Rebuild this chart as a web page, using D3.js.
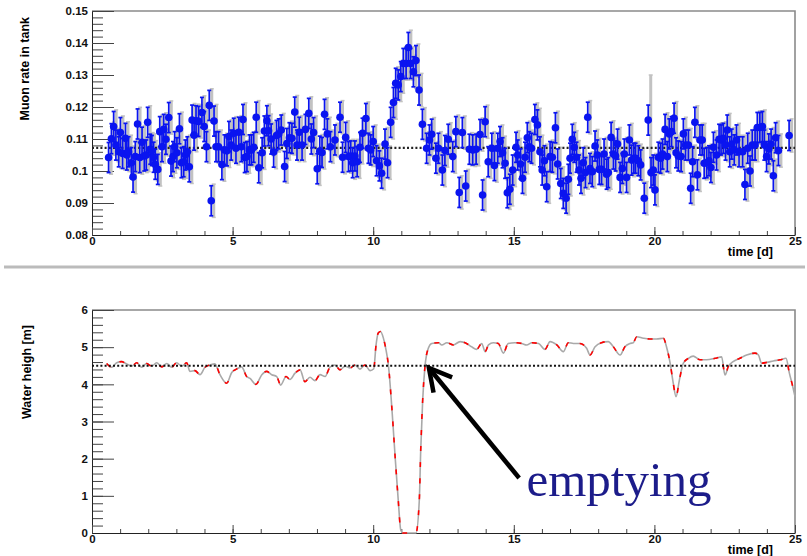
<!DOCTYPE html>
<html>
<head>
<meta charset="utf-8">
<script src="https://cdn.jsdelivr.net/npm/d3@7"></script>
<style>
body { margin: 0; background: #fff; }
svg { display: block; font-family: "Liberation Sans", Arial, sans-serif; }
.axis text { font-size: 11.5px; font-weight: bold; fill: #111; }
.axis line { stroke: #444; }
.axis path { stroke: #222; }
</style>
</head>
<body>
<div class="chart"></div>
<script>
// muon rate in tank: [time (d), rate]
const muonRate = [
  [0.59,.1042],[0.69,.1101],[0.77,.1139],[0.85,.1081],[0.95,.1060],[1.01,.1120],[1.09,.1055],[1.19,.1102],
  [1.24,.1050],[1.30,.1060],[1.40,.1026],[1.46,.0981],[1.54,.1045],[1.62,.1147],[1.70,.1042],[1.78,.1090],
  [1.86,.1047],[1.93,.1050],[1.98,.1152],[2.07,.1068],[2.13,.1064],[2.19,.1043],[2.25,.1021],[2.34,.1005],
  [2.41,.1123],[2.49,.1076],[2.55,.1130],[2.63,.1099],[2.73,.1167],[2.81,.1031],[2.88,.1045],[2.94,.1076],
  [3.02,.1057],[3.11,.1132],[3.18,.1026],[3.26,.1029],[3.32,.1050],[3.39,.1060],[3.46,.1013],[3.56,.1159],
  [3.63,.1112],[3.70,.1157],[3.79,.1155],[3.91,.1183],[3.99,.1139],[4.07,.1076],[4.17,.1205],[4.24,.0907],
  [4.34,.1156],[4.41,.1076],[4.50,.1076],[4.62,.1020],[4.71,.1066],[4.80,.1063],[4.87,.1108],[4.95,.1081],
  [5.04,.1118],[5.12,.1071],[5.22,.1121],[5.31,.1076],[5.37,.1161],[5.43,.1042],[5.51,.1045],[5.60,.1066],
  [5.67,.1066],[5.75,.1074],[5.84,.1168],[5.93,.1010],[6.05,.1057],[6.13,.1125],[6.22,.1157],[6.28,.1126],
  [6.37,.1100],[6.46,.1059],[6.56,.1111],[6.64,.1116],[6.73,.1128],[6.85,.1014],[6.93,.1086],[7.02,.1104],
  [7.11,.1102],[7.21,.1184],[7.29,.1081],[7.37,.1121],[7.47,.1081],[7.59,.1130],[7.71,.1180],[7.80,.1100],
  [7.88,.1120],[8.01,.1007],[8.10,.1062],[8.18,.1058],[8.27,.1177],[8.37,.1116],[8.48,.1076],
  [8.64,.1097],[8.82,.1168],[8.91,.1043],[9.02,.1105],[9.12,.1045],[9.20,.1047],[9.27,.1026],[9.35,.1047],
  [9.43,.1029],[9.53,.1074],[9.62,.1118],[9.74,.1164],[9.83,.1071],[9.91,.1066],[10.00,.1092],[10.12,.1032],
  [10.22,.1016],[10.30,.0993],[10.42,.1084],[10.51,.1026],[10.62,.1152],[10.72,.1214],[10.80,.1274],[10.89,.1269],
  [10.98,.1295],[11.07,.1336],[11.17,.1336],[11.25,.1386],[11.33,.1336],[11.43,.1310],[11.52,.1345],[11.63,.1253],
  [11.75,.1146],[11.90,.1071],[12.00,.1097],[12.08,.1115],[12.23,.1040],[12.32,.1071],[12.46,.1003],[12.55,.1064],
  [12.67,.1099],[12.83,.1045],[12.94,.1123],[13.06,.0933],[13.17,.1120],[13.29,.0953],[13.42,.1068],[13.54,.1066],
  [13.66,.1068],[13.80,.1114],[13.89,.0925],[13.98,.1154],[14.09,.1029],[14.22,.1071],[14.31,.1017],[14.43,.1071],
  [14.51,.1092],[14.60,.1057],[14.69,.1024],[14.77,.0932],[14.86,.0943],[14.96,.1003],[15.08,.1074],[15.14,.1050],
  [15.24,.1022],[15.31,.0977],[15.40,.1043],[15.48,.1104],[15.55,.1076],[15.63,.1071],[15.75,.1161],[15.84,.1144],
  [15.93,.1060],[16.01,.1003],[16.09,.1032],[16.17,.0951],[16.29,.1045],[16.37,.1043],[16.48,.1135],[16.56,.1022],
  [16.67,.0961],[16.76,.0930],
  [16.86,.0915],[16.94,.0974],[17.00,.1040],[17.08,.1099],[17.15,.1074],[17.23,.1043],[17.32,.1003],[17.39,.0977],
  [17.47,.1026],[17.55,.0995],[17.63,.1168],[17.71,.1008],[17.79,.0998],[17.89,.1078],[17.97,.1050],[18.04,.1005],
  [18.12,.1005],[18.21,.1053],[18.30,.0990],[18.36,.0995],[18.46,.1105],[18.54,.1053],[18.62,.1047],[18.69,.1084],
  [18.78,.0980],[18.86,.1008],[18.93,.1053],[19.01,.0980],[19.11,.1097],[19.19,.1034],[19.27,.1040],[19.33,.1040],
  [19.43,.1032],[19.51,.1019],[19.64,.0915],[19.78,.1159],[19.88,.0995],[19.96,.1003],[20.02,.0941],[20.14,.1043],
  [20.22,.1040],[20.29,.1053],[20.38,.1130],[20.46,.1045],[20.53,.1116],[20.61,.1123],[20.70,.1165],[20.77,.1057],
  [20.85,.1047],[20.95,.1045],[21.03,.1116],[21.11,.1081],[21.21,.1081],[21.29,.0946],[21.36,.1029],[21.44,.1152],
  [21.53,.0988],[21.62,.1097],[21.70,.1097],[21.77,.1024],[21.86,.1026],[21.94,.1032],[22.01,.1011],[22.10,.1074],
  [22.21,.1050],[22.30,.1099],[22.37,.1097],[22.45,.1102],[22.53,.1081],[22.59,.1128],[22.68,.1060],[22.75,.1084],
  [22.84,.1066],[22.92,.1097],[23.01,.1060],[23.14,.1060],[23.22,.0958],[23.32,.1071],[23.40,.1000],[23.48,.1081],
  [23.58,.1081],[23.66,.1136],[23.75,.1136],[23.84,.1139],[23.91,.1081],[23.99,.1045],[24.07,.1069],[24.15,.1084],
  [24.23,.0985],[24.31,.1104],[24.41,.1064],[24.79,.1111]
];
const statErr = 0.0047;          // blue error bars
const sysErr = 0.0052;           // grey error bars
const wideSys = [[19.78, 0.0985, 0.1300], [11.25, 0.1330, 0.1440]];  // [time, low, high]
const meanRate = 0.1072;

// water height in tank: [time (d), height (m)]
const waterHeight = [
  [0.52,4.56],[0.70,4.46],[0.88,4.58],[1.05,4.61],[1.23,4.55],[1.41,4.49],[1.59,4.58],[1.77,4.46],
  [1.94,4.56],[2.12,4.49],[2.30,4.58],[2.48,4.47],[2.66,4.56],[2.83,4.46],[3.01,4.58],[3.19,4.49],
  [3.37,4.58],[3.48,4.35],[3.66,4.37],[3.84,4.26],[4.02,4.46],[4.20,4.52],[4.37,4.55],[4.55,4.26],
  [4.79,4.03],[4.97,4.32],[5.14,4.41],[5.32,4.47],[5.50,4.21],[5.62,4.16],[5.83,4.00],[6.04,4.26],
  [6.21,4.35],[6.39,4.26],[6.57,4.21],[6.71,3.98],[6.90,4.21],[7.04,4.13],[7.22,4.30],[7.40,4.39],
  [7.57,4.07],[7.75,4.19],[7.93,4.10],[8.11,4.26],[8.29,4.21],[8.46,4.46],[8.64,4.52],[8.82,4.39],
  [9.00,4.49],[9.18,4.44],[9.35,4.52],[9.53,4.41],[9.71,4.52],[9.89,4.37],[10.02,4.42],[10.10,5.05],
  [10.18,5.38],[10.26,5.42],[10.36,5.25],[10.45,4.95],[10.54,4.52],[10.66,3.40],[10.78,2.05],[10.89,0.89],
  [10.98,0.08],[11.05,0],[11.52,0],[11.64,0.89],[11.69,2.23],[11.76,3.58],[11.84,4.47],[11.96,4.97],
  [12.08,5.10],[12.32,5.12],[12.44,5.06],[12.62,5.12],[12.85,5.06],[13.09,5.15],[13.32,5.10],[13.50,5.01],
  [13.68,4.94],[13.86,5.10],[13.98,4.88],[14.10,5.06],[14.27,5.12],[14.45,5.10],[14.63,4.84],[14.80,5.10],
  [15.04,5.12],[15.28,5.10],[15.46,5.06],[15.64,5.12],[15.88,5.10],[16.11,4.94],[16.29,5.15],[16.53,5.06],
  [16.76,4.88],[16.94,5.12],[17.12,5.10],[17.35,5.10],[17.59,4.97],[17.71,4.79],[17.89,5.01],[18.12,5.12],
  [18.36,5.15],[18.54,5.01],[18.78,4.79],[18.95,5.01],[19.13,5.10],[19.25,5.12],[19.37,5.28],[19.61,5.24],
  [19.84,5.22],[20.08,5.22],[20.32,5.24],[20.43,5.01],[20.56,4.57],[20.67,4.03],[20.77,3.67],[20.89,4.12],
  [21.03,4.57],[21.21,4.70],[21.38,4.76],[21.62,4.66],[21.86,4.66],[22.16,4.70],[22.39,4.74],[22.51,4.25],
  [22.63,4.48],[22.80,4.61],[23.04,4.70],[23.28,4.79],[23.58,4.84],[23.70,4.79],[23.81,4.57],[24.00,4.59],
  [24.23,4.63],[24.47,4.66],[24.68,4.70],[24.80,4.30],[24.92,3.94],[25.00,3.67]
];
const waterRef = 4.5;

const timeTicks = [0, 5, 10, 15, 20, 25];
const rateTicks = [0.08, 0.09, 0.10, 0.11, 0.12, 0.13, 0.14, 0.15];
const rateLabels = ["0.08", "0.09", "0.1", "0.11", "0.12", "0.13", "0.14", "0.15"];
const heightTicks = [0, 1, 2, 3, 4, 5, 6];

// annotation, in data coords of the lower pad
const arrowTip = [11.98, 4.44], arrowTail = [15.19, 1.48];
const noteText = "emptying", notePos = [15.45, 1.0];

var svg = d3.select(".chart").append("svg")
    .attr("width", 807)
    .attr("height", 556);

const xTop = d3.scaleLinear().domain([0, 25]).range([92, 795]);
const yTop = d3.scaleLinear().domain([0.08, 0.15]).range([235, 11]);
const xBot = d3.scaleLinear().domain([0, 25]).range([92, 795]);
const yBot = d3.scaleLinear().domain([0, 6]).range([533, 310]);

function minorTicks(lo, hi, step) {
    return d3.range(Math.round((hi - lo) / step) + 1).map(i => lo + i * step);
}

function drawFrame(x, y, yVals, yFmt, yMinorStep, title, titlePos) {
    const [x0, x1] = x.range(), [y0, y1] = y.range();
    // top and right border
    svg.append("path")
        .attr("d", `M${x0},${y1}H${x1}V${y0}`)
        .attr("fill", "none").attr("stroke", "#8a8a8a").attr("stroke-width", 1.6);

    svg.append("g")
        .attr("class", "axis")
        .attr("transform", `translate(${x0},0)`)
        .call(d3.axisLeft(y).tickValues(minorTicks(y.domain()[0], y.domain()[1], yMinorStep))
            .tickSize(-11).tickFormat(""))
        .call(g => g.select(".domain").remove());

    svg.append("g")
        .attr("class", "axis")
        .attr("transform", `translate(${x0},0)`)
        .call(d3.axisLeft(y).tickValues(yVals).tickSize(-22).tickSizeOuter(0).tickPadding(4).tickFormat(yFmt));

    svg.append("g")
        .attr("class", "axis")
        .attr("transform", `translate(0,${y0})`)
        .call(d3.axisBottom(x).tickValues(d3.range(0, 26)).tickSize(-4).tickFormat(""))
        .call(g => g.select(".domain").remove());

    svg.append("g")
        .attr("class", "axis")
        .attr("transform", `translate(0,${y0})`)
        .call(d3.axisBottom(x).tickValues(timeTicks).tickSize(-8).tickSizeOuter(0).tickPadding(2));

    svg.append("text")
        .attr("transform", `translate(${titlePos[0]},${titlePos[1]}) rotate(-90)`)
        .attr("text-anchor", "end")
        .attr("dy", "0.35em")
        .style("font-size", "12.5px").style("font-weight", "bold")
        .text(title);

    svg.append("text")
        .attr("x", 773).attr("y", y0 + 21)
        .attr("text-anchor", "end")
        .style("font-size", "12.5px").style("font-weight", "bold")
        .text("time [d]");
}

// ---- upper pad: muon rate ----
drawFrame(xTop, yTop, rateTicks, (d, i) => rateLabels[i], 0.002, "Muon rate in tank", [25, 17]);

const grey = svg.append("g").attr("stroke", "#c2c2c2").attr("stroke-width", 3);
muonRate.forEach(([t, v]) => {
    let lo = v - sysErr, hi = v + sysErr;
    const w = wideSys.find(d => d[0] === t);
    if (w) { lo = w[1]; hi = w[2]; }
    const px = xTop(t) + 2.5;
    grey.append("line").attr("x1", px).attr("x2", px).attr("y1", yTop(lo)).attr("y2", yTop(hi));
    grey.append("line").attr("x1", px - 2).attr("x2", px + 2).attr("y1", yTop(lo)).attr("y2", yTop(lo)).attr("stroke-width", 1.5);
    grey.append("line").attr("x1", px - 2).attr("x2", px + 2).attr("y1", yTop(hi)).attr("y2", yTop(hi)).attr("stroke-width", 1.5);
});

svg.append("line")
    .attr("x1", xTop(0)).attr("x2", xTop(25))
    .attr("y1", yTop(meanRate)).attr("y2", yTop(meanRate))
    .attr("stroke", "#222").attr("stroke-width", 2.2).attr("stroke-dasharray", "2,2.2");

const blue = svg.append("g").attr("stroke", "#0a14f0").attr("stroke-width", 1.7);
muonRate.forEach(([t, v]) => {
    const px = xTop(t);
    blue.append("line").attr("x1", px).attr("x2", px).attr("y1", yTop(v - statErr)).attr("y2", yTop(v + statErr));
    blue.append("line").attr("x1", px - 2).attr("x2", px + 2).attr("y1", yTop(v - statErr)).attr("y2", yTop(v - statErr));
    blue.append("line").attr("x1", px - 2).attr("x2", px + 2).attr("y1", yTop(v + statErr)).attr("y2", yTop(v + statErr));
});

svg.append("g").selectAll("circle")
    .data(muonRate)
    .enter().append("circle")
    .attr("cx", d => xTop(d[0]))
    .attr("cy", d => yTop(d[1]))
    .attr("r", 3.8)
    .attr("fill", "#0a14f0");

// separator between the two pads
svg.append("line")
    .attr("x1", 4).attr("x2", 805).attr("y1", 267).attr("y2", 267)
    .attr("stroke", "#bbb").attr("stroke-width", 3);

// ---- lower pad: water height ----
drawFrame(xBot, yBot, heightTicks, d3.format("d"), 0.2, "Water heigh [m]", [27, 325]);

const line = d3.line().x(d => xBot(d[0])).y(d => yBot(d[1])).curve(d3.curveMonotoneX);

svg.append("path")
    .datum(waterHeight)
    .attr("d", line)
    .attr("fill", "none").attr("stroke", "#a9a9a9").attr("stroke-width", 1.6);

svg.append("path")
    .datum(waterHeight)
    .attr("d", line)
    .attr("fill", "none").attr("stroke", "#ff0000").attr("stroke-width", 1.6)
    .attr("stroke-dasharray", "5,11");

svg.append("line")
    .attr("x1", xBot(0)).attr("x2", xBot(25))
    .attr("y1", yBot(waterRef)).attr("y2", yBot(waterRef))
    .attr("stroke", "#111").attr("stroke-width", 2.2).attr("stroke-dasharray", "2,2.2");

// arrow + note
const tip = [xBot(arrowTip[0]), yBot(arrowTip[1])];
const tail = [xBot(arrowTail[0]), yBot(arrowTail[1])];
const len = Math.hypot(tail[0] - tip[0], tail[1] - tip[1]);
const u = [(tail[0] - tip[0]) / len, (tail[1] - tip[1]) / len];
const base = [tip[0] + 22 * u[0], tip[1] + 22 * u[1]];
const perp = [-u[1], u[0]];

svg.append("line")
    .attr("x1", tail[0]).attr("y1", tail[1])
    .attr("x2", tip[0] + 3 * u[0]).attr("y2", tip[1] + 3 * u[1])
    .attr("stroke", "#000").attr("stroke-width", 4.5);

svg.append("path")
    .attr("d", `M${base[0] + 12 * perp[0]},${base[1] + 12 * perp[1]}L${tip[0]},${tip[1]}L${base[0] - 12 * perp[0]},${base[1] - 12 * perp[1]}`)
    .attr("fill", "none").attr("stroke", "#000").attr("stroke-width", 4.5)
    .attr("stroke-linejoin", "miter");

svg.append("text")
    .attr("x", xBot(notePos[0])).attr("y", yBot(notePos[1]))
    .style("font-family", "'Liberation Serif', 'DejaVu Serif', serif")
    .style("font-size", "49px")
    .attr("fill", "#1c1c8a")
    .text(noteText);
</script>
</body>
</html>
